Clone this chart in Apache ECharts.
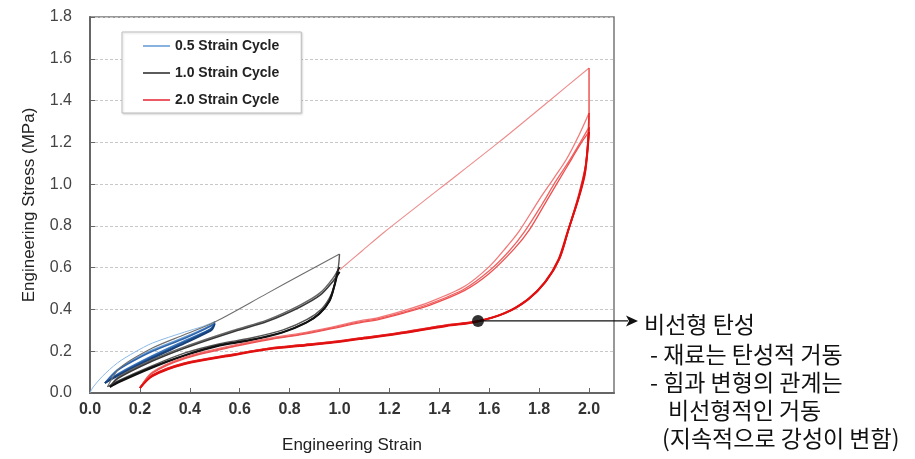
<!DOCTYPE html>
<html><head><meta charset="utf-8">
<script src="https://cdn.jsdelivr.net/npm/echarts@6/dist/echarts.min.js"></script>
<style>html,body{margin:0;padding:0;background:#fff}#c{width:915px;height:459px}</style>
</head><body><div id="c"></div>
<script>
// ---- axis ticks ----
const xTicks = [0.0,0.2,0.4,0.6,0.8,1.0,1.2,1.4,1.6,1.8,2.0];
const yTicks = [0.0,0.2,0.4,0.6,0.8,1.0,1.2,1.4,1.6,1.8];
const legendNames = ['0.5 Strain Cycle','1.0 Strain Cycle','2.0 Strain Cycle'];

// ---- 0.5 strain cycle [strain, stress MPa] ----
const blueLoad1   = [[0.0,0.0],[0.01,0.024],[0.05,0.08],[0.11,0.144],[0.18,0.196],[0.25,0.239],[0.38,0.292],[0.45,0.318],[0.5,0.342]];
const blueUnload1 = [[0.5,0.342],[0.49,0.315],[0.47,0.298],[0.38,0.25],[0.25,0.178],[0.11,0.09],[0.06,0.048]];
const blueLoad2   = [[0.06,0.048],[0.11,0.112],[0.18,0.163],[0.25,0.206],[0.38,0.268],[0.45,0.305],[0.5,0.335]];
const blueUnload2 = [[0.5,0.335],[0.49,0.312],[0.473,0.298],[0.38,0.244],[0.25,0.172],[0.11,0.086],[0.06,0.048]];
const blueLoad3   = [[0.06,0.048],[0.11,0.108],[0.18,0.158],[0.25,0.2],[0.38,0.262],[0.45,0.3],[0.5,0.33]];
const blueUnload3 = [[0.5,0.33],[0.49,0.305],[0.47,0.29],[0.38,0.238],[0.25,0.166],[0.11,0.082],[0.06,0.048]];

// ---- 1.0 strain cycle ----
const blackLoad1   = [[0.07,0.03],[0.12,0.12],[0.25,0.215],[0.38,0.28],[0.5,0.34],[0.71,0.477],[0.85,0.568],[1.0,0.665]];
const blackUnload1 = [[1.0,0.665],[0.996,0.61],[0.986,0.545],[0.966,0.47],[0.93,0.405],[0.87,0.352],[0.774,0.302],[0.641,0.262],[0.521,0.236],[0.381,0.192],[0.248,0.13],[0.112,0.058],[0.07,0.03]];
const blackLoad2   = [[0.08,0.029],[0.112,0.075],[0.248,0.158],[0.381,0.222],[0.581,0.302],[0.709,0.349],[0.842,0.421],[0.922,0.479],[0.974,0.55],[1.0,0.603]];
const blackUnload2 = [[1.0,0.603],[0.99,0.575],[0.982,0.527],[0.962,0.445],[0.922,0.383],[0.87,0.34],[0.774,0.292],[0.641,0.254],[0.521,0.23],[0.381,0.182],[0.248,0.124],[0.112,0.053],[0.08,0.029]];
const blackLoad3   = [[0.08,0.029],[0.112,0.07],[0.248,0.152],[0.381,0.216],[0.581,0.296],[0.709,0.342],[0.842,0.412],[0.922,0.468],[0.974,0.535],[1.0,0.58]];
const blackUnload3 = [[1.0,0.58],[0.99,0.56],[0.98,0.515],[0.958,0.438],[0.918,0.378],[0.865,0.336],[0.77,0.289],[0.64,0.251],[0.52,0.227],[0.38,0.179],[0.248,0.121],[0.112,0.05],[0.08,0.029]];

// ---- 2.0 strain cycle ----
const redLoad1   = [[1.0,0.589],[1.09,0.68],[1.18,0.771],[1.4,0.977],[1.64,1.202],[1.84,1.398],[2.0,1.556]];
const redUnload1 = [[2.0,1.556],[2.0,1.32],[1.99,1.115],[1.96,0.957],[1.92,0.795],[1.884,0.651],[1.83,0.541],[1.76,0.455],[1.67,0.388],[1.555,0.345],[1.43,0.326],[1.23,0.287],[1.08,0.263],[0.96,0.244],[0.84,0.23],[0.72,0.215],[0.58,0.187],[0.38,0.144],[0.25,0.086],[0.2,0.024]];
const redLoad2   = [[0.2,0.024],[0.25,0.1],[0.38,0.172],[0.58,0.23],[0.72,0.263],[0.84,0.285],[0.96,0.313],[1.08,0.345],[1.16,0.362],[1.26,0.395],[1.36,0.435],[1.5,0.51],[1.6,0.605],[1.67,0.7],[1.72,0.775],[1.8,0.925],[1.86,1.03],[1.91,1.12],[1.96,1.235],[2.0,1.34]];
const redUnload2 = [[2.0,1.34],[1.995,1.2],[1.985,1.08],[1.96,0.945],[1.92,0.79],[1.884,0.648],[1.83,0.538],[1.76,0.452],[1.67,0.386],[1.555,0.344],[1.43,0.325],[1.23,0.286],[1.08,0.262],[0.96,0.243],[0.84,0.229],[0.72,0.214],[0.58,0.186],[0.38,0.143],[0.25,0.085],[0.2,0.024]];
const redLoad3   = [[0.2,0.024],[0.25,0.097],[0.38,0.168],[0.58,0.226],[0.72,0.259],[0.84,0.281],[0.96,0.309],[1.08,0.34],[1.16,0.357],[1.26,0.388],[1.36,0.426],[1.5,0.498],[1.6,0.585],[1.68,0.68],[1.74,0.77],[1.81,0.9],[1.87,1.02],[1.92,1.11],[1.965,1.2],[2.0,1.273]];
const redUnload3 = [[2.0,1.273],[1.994,1.17],[1.984,1.06],[1.958,0.935],[1.918,0.783],[1.88,0.642],[1.826,0.533],[1.756,0.448],[1.665,0.383],[1.55,0.342],[1.43,0.323],[1.23,0.284],[1.08,0.26],[0.96,0.241],[0.84,0.227],[0.72,0.212],[0.58,0.184],[0.38,0.141],[0.25,0.083],[0.2,0.024]];
const redLoad4   = [[0.2,0.024],[0.25,0.095],[0.38,0.165],[0.58,0.223],[0.72,0.256],[0.84,0.278],[0.96,0.306],[1.08,0.336],[1.16,0.353],[1.26,0.384],[1.36,0.42],[1.5,0.49],[1.6,0.572],[1.7,0.69],[1.76,0.78],[1.83,0.92],[1.88,1.02],[1.93,1.12],[1.97,1.2],[2.0,1.25]];
const redUnload4 = [[2.0,1.25],[1.993,1.15],[1.982,1.04],[1.955,0.92],[1.915,0.775],[1.877,0.637],[1.822,0.528],[1.752,0.445],[1.66,0.381],[1.545,0.34],[1.43,0.321],[1.23,0.282],[1.08,0.258],[0.96,0.239],[0.84,0.225],[0.72,0.21],[0.58,0.182],[0.38,0.139],[0.25,0.081],[0.2,0.024]];

// ---- annotation ----
const annotPoint = [1.555, 0.345];
const annotLines = ['비선형 탄성','- 재료는 탄성적 거동','- 힘과 변형의 관계는','비선형적인 거동','(지속적으로 강성이 변함)'];

const specs = [
  {n:0,d:blueLoad1,c:'#8cb9e6',w:1},
  {n:0,d:blueUnload1,c:'#3d78c0',w:1.6},
  {n:0,d:blueLoad2,c:'#6a9fd8',w:1.4},
  {n:0,d:blueUnload2,c:'#1f5496',w:1.8},
  {n:0,d:blueLoad3,c:'#2f65ab',w:1.6},
  {n:0,d:blueUnload3,c:'#173f78',w:1.8},
  {n:1,d:blackLoad1,c:'#6e6e6e',w:1.1},
  {n:1,d:blackUnload1,c:'#555555',w:1.4},
  {n:1,d:blackLoad2,c:'#666666',w:1.5},
  {n:1,d:blackUnload2,c:'#222222',w:1.8},
  {n:1,d:blackLoad3,c:'#3a3a3a',w:1.6},
  {n:1,d:blackUnload3,c:'#111111',w:2},
  {n:2,d:redLoad1,c:'#ee8c8c',w:1.1},
  {n:2,d:redUnload1,c:'#ec4848',w:1.4},
  {n:2,d:redLoad2,c:'#f27a7a',w:1.3},
  {n:2,d:redUnload2,c:'#e62a2a',w:1.6},
  {n:2,d:redLoad3,c:'#f06262',w:1.3},
  {n:2,d:redUnload3,c:'#e41b1b',w:1.8},
  {n:2,d:redLoad4,c:'#ee5050',w:1.3},
  {n:2,d:redUnload4,c:'#e01010',w:2}
];
const legendColors = ['#6a9fd8','#333333','#e8323c'];

const FONT = 'Liberation Sans, Arial, sans-serif';
const chart = echarts.init(document.getElementById('c'), null, {renderer:'canvas'});

const series = specs.map(s => ({
  name: legendNames[s.n], type:'line', data: s.d, symbol:'none', showSymbol:false, smooth:0.3,
  lineStyle:{color:s.c, width:s.w}, itemStyle:{color:s.c}, z:2, silent:true, animation:false
}));
series.push({
  name:'annot', type:'scatter', data:[annotPoint], symbol:'circle', symbolSize:12,
  itemStyle:{color:'#000'}, z:5, animation:false
});

chart.setOption({
  backgroundColor:'#fff',
  animation:false,
  grid:{left:90, right:301, top:17, bottom:66, show:true, borderColor:'#777', borderWidth:1.5, backgroundColor:'#fff'},
  legend:{
    show:true, orient:'vertical', left:122, top:32,
    padding:[7,22,6,21], itemGap:13, itemWidth:27, itemHeight:1.6,
    borderColor:'#bdbdbd', borderWidth:1, backgroundColor:'#fff',
    shadowColor:'rgba(0,0,0,0.15)', shadowBlur:2, shadowOffsetX:1, shadowOffsetY:1,
    selectedMode:false, icon:'rect',
    textStyle:{fontFamily:FONT, fontWeight:'bold', fontSize:14, color:'#222'},
    data: legendNames.map((nm,i)=>({name:nm, icon:'rect', itemStyle:{color:legendColors[i], borderWidth:0}}))
  },
  xAxis:{
    type:'value', min:0, max:2.1, interval:0.2,
    name:'Engineering Strain', nameLocation:'middle', nameGap:44,
    nameTextStyle:{fontFamily:FONT, fontSize:17, color:'#222'},
    axisLine:{show:true, lineStyle:{color:'#666', width:2}},
    axisTick:{show:true, inside:true, length:5, customValues:xTicks, lineStyle:{color:'#666'}},
    axisLabel:{customValues:xTicks, margin:9, fontFamily:FONT, fontWeight:'bold', fontSize:16, color:'#333', formatter:v=>v.toFixed(1)},
    splitLine:{show:false}
  },
  yAxis:{
    type:'value', min:0, max:1.8, interval:0.2,
    name:'Engineering Stress (MPa)', nameLocation:'middle', nameGap:52,
    nameTextStyle:{fontFamily:FONT, fontSize:17, color:'#222'},
    axisLine:{show:true, lineStyle:{color:'#666', width:2}},
    axisTick:{show:true, inside:true, length:5, lineStyle:{color:'#666'}},
    axisLabel:{margin:18, fontFamily:FONT, fontSize:16, color:'#444', formatter:v=>v.toFixed(1)},
    splitLine:{show:true, lineStyle:{color:'#c8c8c8', type:[3,2], width:1}}
  },
  series: series
});

// annotation arrow + text
const p = chart.convertToPixel({xAxisIndex:0, yAxisIndex:0}, annotPoint);
const arrowEnd = 638;
const textLeft = [644, 650, 650, 668, 662];
const textY = [324, 354, 382, 410, 438];
const g = [
  {type:'line', shape:{x1:p[0], y1:p[1], x2:arrowEnd-10, y2:p[1]}, style:{stroke:'#111', lineWidth:1.3}, z:10},
  {type:'polygon', shape:{points:[[arrowEnd-12,p[1]-5.5],[arrowEnd,p[1]],[arrowEnd-12,p[1]+5.5],[arrowEnd-9,p[1]]]}, style:{fill:'#111'}, z:10}
];
annotLines.forEach((t,i)=>{
  g.push({type:'text', x:textLeft[i], y:textY[i], z:10,
    style:{text:t, fill:'#111', font:'23px "Noto Sans CJK KR", sans-serif', verticalAlign:'middle', align:'left'}});
});
chart.setOption({graphic:g});
</script>
</body></html>
